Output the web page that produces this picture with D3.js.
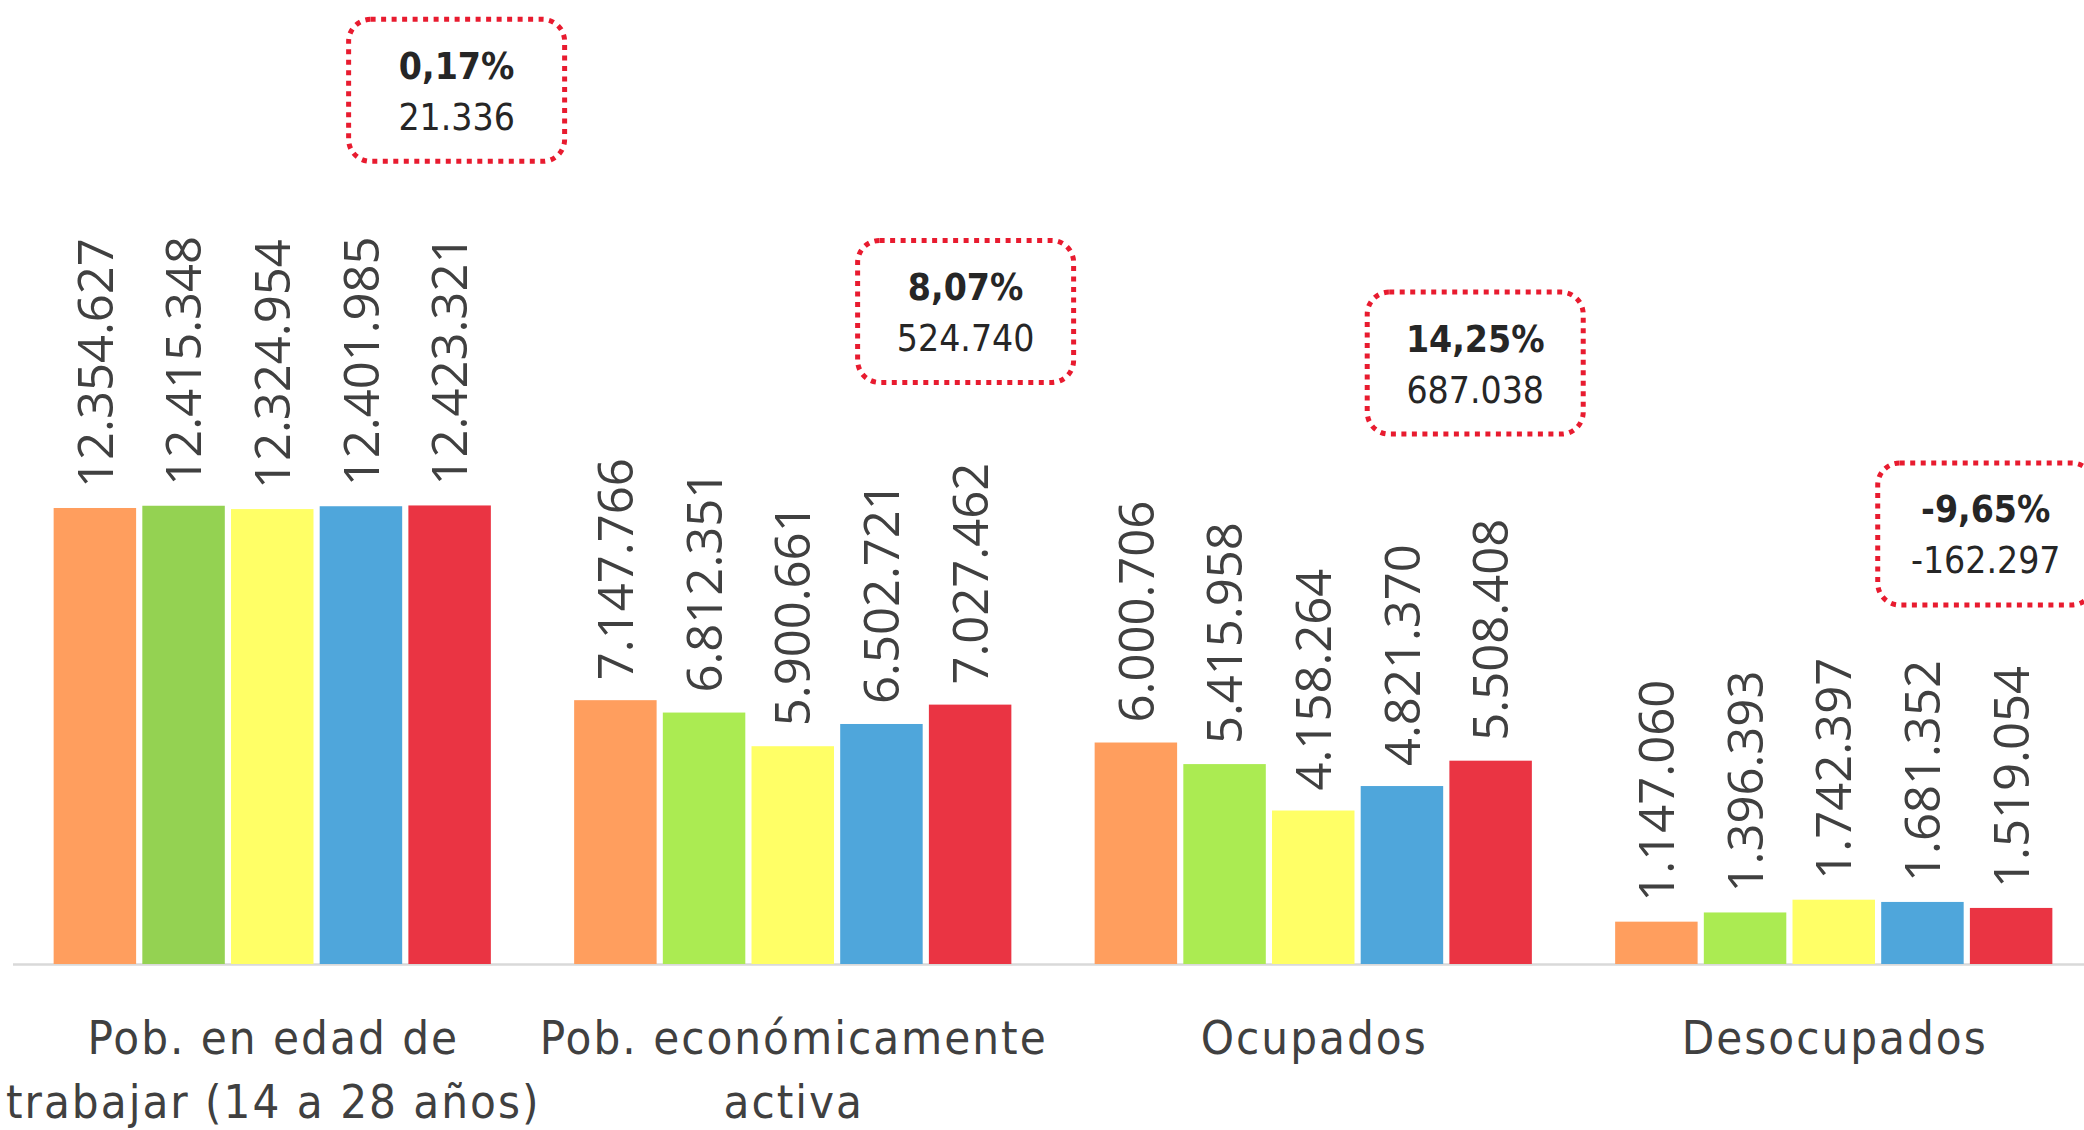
<!DOCTYPE html>
<html lang="es">
<head>
    <meta charset="UTF-8">
    <title>Población joven</title>
    <style>
        body { margin: 0; background: #fff; }
        svg { display: block; }
        .val { font-family: "Open Sans", sans-serif; font-size: 49px; fill: #404040; }
        .cat { font-family: "DejaVu Sans Condensed", "DejaVu Sans", sans-serif; font-size: 47px; letter-spacing: 2px; fill: #404040; }
        .box-text { font-family: "DejaVu Sans Condensed", "DejaVu Sans", sans-serif; font-size: 37px; fill: #262626; }
    </style>
</head>
<body>
<script src="https://d3js.org/d3.v7.min.js"></script>
<script>
    // data
    const categories = [
        ["Pob. en edad de", "trabajar (14 a 28 años)"],
        ["Pob. económicamente", "activa"],
        ["Ocupados"],
        ["Desocupados"]
    ];
    const series1 = [12354627, 7147766, 6000706, 1147060];
    const series2 = [12415348, 6812351, 5415958, 1396393];
    const series3 = [12324954, 5900661, 4158264, 1742397];
    const series4 = [12401985, 6502721, 4821370, 1681352];
    const series5 = [12423321, 7027462, 5508408, 1519054];
    const changePct = ["0,17%", "8,07%", "14,25%", "-9,65%"];
    const changeAbs = ["21.336", "524.740", "687.038", "-162.297"];

    const allSeries = [series1, series2, series3, series4, series5];
    const colors = ["#FF9E5E", "#ABEB52", "#FFFF66", "#4FA6DB", "#EA3443"];
    const firstGroupGreen = "#94D252";

    // layout
    const width = 2084, height = 1130;
    const baseY = 964;
    const boxW = 221, boxH = 147;
    // box centre levels (in data units) and horizontal nudges from the last bar
    const boxLevel = [23.67e6, 17.68e6, 16.28e6, 11.65e6];
    const boxDx = [7, -4.5, -15.4, -25.4];

    const fmt = v => d3.format(",")(v).replace(/,/g, ".");

    const svg = d3.select("body").append("svg")
        .attr("width", width)
        .attr("height", height);

    const x0 = d3.scaleBand()
        .domain(d3.range(categories.length))
        .range([12, 2094])
        .paddingInner(0.16)
        .paddingOuter(0.08);

    const x1 = d3.scaleBand()
        .domain(d3.range(allSeries.length))
        .range([0, x0.bandwidth()])
        .paddingInner(0.07);

    const y = d3.scaleLinear()
        .domain([0, 16e6])
        .range([baseY, baseY - 16e6 * 3.691e-5]);

    const rows = [];
    categories.forEach((c, g) => {
        allSeries.forEach((s, i) => rows.push({ g, i, v: s[g] }));
    });

    // axis line
    svg.append("line")
        .attr("x1", 13).attr("x2", width)
        .attr("y1", baseY + 0.5).attr("y2", baseY + 0.5)
        .attr("stroke", "#D9D9D9")
        .attr("stroke-width", 2.5);

    // bars
    svg.selectAll(".bar")
        .data(rows)
        .enter().append("rect")
        .attr("class", "bar")
        .attr("x", d => x0(d.g) + x1(d.i))
        .attr("y", d => y(d.v))
        .attr("width", x1.bandwidth())
        .attr("height", d => baseY - y(d.v))
        .attr("fill", d => (d.g === 0 && d.i === 1) ? firstGroupGreen : colors[d.i]);

    // value labels, rotated
    svg.selectAll(".val")
        .data(rows)
        .enter().append("text")
        .attr("class", "val")
        .attr("transform", d => {
            const cx = x0(d.g) + x1(d.i) + x1.bandwidth() / 2;
            return `translate(${cx},${y(d.v) - 20}) rotate(-90)`;
        })
        .attr("dy", "0.36em")
        .text(d => fmt(d.v));

    // category labels
    const cat = svg.selectAll(".cat")
        .data(categories)
        .enter().append("text")
        .attr("class", "cat")
        .attr("text-anchor", "middle")
        .attr("x", (d, i) => x0(i) + x0.bandwidth() / 2 + 1)
        .attr("y", 1054);
    cat.selectAll("tspan")
        .data(d => d)
        .enter().append("tspan")
        .attr("x", function () { return d3.select(this.parentNode).attr("x"); })
        .attr("dy", (d, i) => i === 0 ? 0 : 64)
        .text(d => d);

    // change boxes
    const box = svg.selectAll(".box")
        .data(changePct)
        .enter().append("g")
        .attr("class", "box")
        .attr("transform", (d, g) => {
            const cx = x0(g) + x1(4) + x1.bandwidth() / 2 + boxDx[g];
            const cy = y(boxLevel[g]);
            return `translate(${cx - boxW / 2},${cy - boxH / 2})`;
        });

    box.append("rect")
        .attr("x", 2.5).attr("y", 2.5)
        .attr("width", boxW - 5)
        .attr("height", boxH - 5)
        .attr("rx", 22)
        .attr("fill", "none")
        .attr("stroke", "#E81B2F")
        .attr("stroke-width", 5)
        .attr("stroke-dasharray", "5 5.5");

    box.append("text")
        .attr("class", "box-text")
        .attr("text-anchor", "middle")
        .attr("x", boxW / 2)
        .attr("y", 62)
        .attr("font-weight", "bold")
        .text(d => d);

    box.append("text")
        .attr("class", "box-text")
        .attr("text-anchor", "middle")
        .attr("x", boxW / 2)
        .attr("y", 113)
        .text((d, g) => changeAbs[g]);
</script>
</body>
</html>
